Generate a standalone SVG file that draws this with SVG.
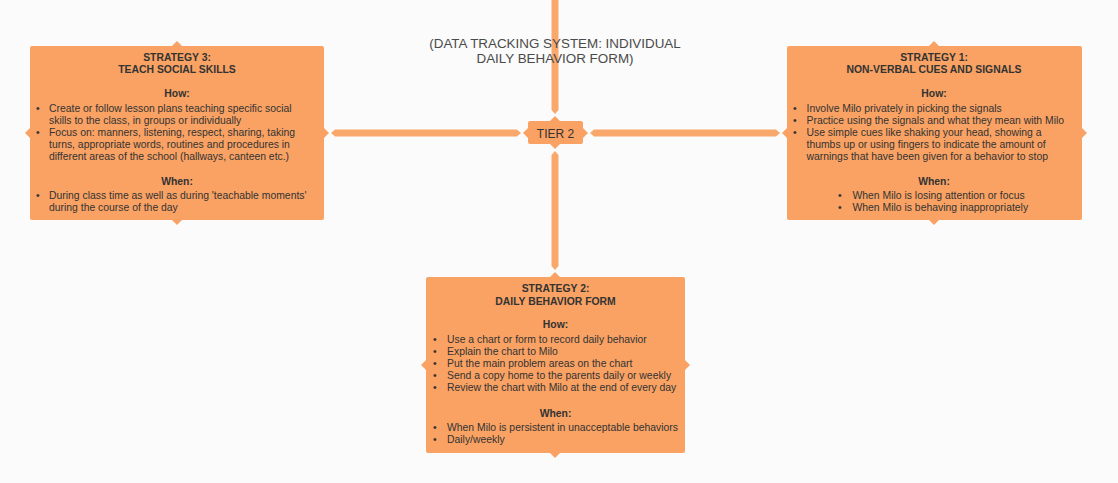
<svg xmlns="http://www.w3.org/2000/svg" width="1118" height="483" viewBox="0 0 1118 483">
<style>
.bg{fill:#FBFBFB}
.box{fill:#F9A263}
.con{fill:#F9A86C}
text{font-family:"Liberation Sans",Arial,Helvetica,sans-serif;fill:#333333}
.h{font-size:10.4px;font-weight:bold;text-anchor:middle}
.t{font-size:10.4px}
.title{font-size:13.4px;fill:#4a4a4a;text-anchor:middle}
.tier{font-size:12px;text-anchor:middle}
</style>
<rect class="bg" x="0" y="0" width="1118" height="483"/>
<g id="connectors">
  <polygon class="con" points="551.5,0 558.5,0 558.5,110 555,114 551.5,110"/>
  <polygon class="con" points="555,151 558.5,155 558.5,266 555,270 551.5,266 551.5,155"/>
  <polygon class="con" points="521,133 517,129.5 335,129.5 331,133 335,136.5 517,136.5"/>
  <polygon class="con" points="590,133 594,129.5 776,129.5 780,133 776,136.5 594,136.5"/>
</g>
<g id="title">
  <text class="title" x="555" y="48">(DATA TRACKING SYSTEM: INDIVIDUAL</text>
  <text class="title" x="555" y="63">DAILY BEHAVIOR FORM)</text>
</g>
<g id="tier2">
  <rect class="box" x="528" y="121" width="55" height="23" rx="2"/>
  <polygon class="box" points="550,121 555,116 560,121"/>
  <polygon class="box" points="550,144 555,149 560,144"/>
  <polygon class="box" points="528,128 523,133 528,138"/>
  <polygon class="box" points="583,128 588,133 583,138"/>
  <text class="tier" x="555.5" y="137.5">TIER 2</text>
</g>
<g id="strategy3">
  <rect class="box" x="30" y="46" width="294" height="174" rx="2"/>
  <polygon class="box" points="172,46 177,41 182,46"/>
  <polygon class="box" points="172,220 177,225 182,220"/>
  <polygon class="box" points="30,128 25,133 30,138"/>
  <polygon class="box" points="324,128 329,133 324,138"/>
  <text class="h" x="177" y="60.5">STRATEGY 3:</text>
  <text class="h" x="177" y="72.5">TEACH SOCIAL SKILLS</text>
  <text class="h" x="177" y="97">How:</text>
  <text class="t" x="36" y="111.5">•</text>
  <text class="t" x="49" y="111.5">Create or follow lesson plans teaching specific social</text>
  <text class="t" x="49" y="123.5">skills to the class, in groups or individually</text>
  <text class="t" x="36" y="135.5">•</text>
  <text class="t" x="49" y="135.5">Focus on: manners, listening, respect, sharing, taking</text>
  <text class="t" x="49" y="147.5">turns, appropriate words, routines and procedures in</text>
  <text class="t" x="49" y="159.5">different areas of the school (hallways, canteen etc.)</text>
  <text class="h" x="177" y="185">When:</text>
  <text class="t" x="36" y="198.5">•</text>
  <text class="t" x="49" y="198.5">During class time as well as during 'teachable moments'</text>
  <text class="t" x="49" y="210.5">during the course of the day</text>
</g>
<g id="strategy1">
  <rect class="box" x="787" y="46" width="295" height="174" rx="2"/>
  <polygon class="box" points="929,46 934,41 939,46"/>
  <polygon class="box" points="929,220 934,225 939,220"/>
  <polygon class="box" points="787,128 782,133 787,138"/>
  <polygon class="box" points="1082,128 1087,133 1082,138"/>
  <text class="h" x="934" y="60.5">STRATEGY 1:</text>
  <text class="h" x="934" y="72.5">NON-VERBAL CUES AND SIGNALS</text>
  <text class="h" x="934" y="97">How:</text>
  <text class="t" x="793" y="111.5">•</text>
  <text class="t" x="806.5" y="111.5">Involve Milo privately in picking the signals</text>
  <text class="t" x="793" y="123.5">•</text>
  <text class="t" x="806.5" y="123.5">Practice using the signals and what they mean with Milo</text>
  <text class="t" x="793" y="135.5">•</text>
  <text class="t" x="806.5" y="135.5">Use simple cues like shaking your head, showing a</text>
  <text class="t" x="806.5" y="147.5">thumbs up or using fingers to indicate the amount of</text>
  <text class="t" x="806.5" y="159.5">warnings that have been given for a behavior to stop</text>
  <text class="h" x="934" y="185">When:</text>
  <text class="t" x="838" y="198.5">•</text>
  <text class="t" x="852.5" y="198.5">When Milo is losing attention or focus</text>
  <text class="t" x="838" y="210.5">•</text>
  <text class="t" x="852.5" y="210.5">When Milo is behaving inappropriately</text>
</g>
<g id="strategy2">
  <rect class="box" x="426" y="277" width="259" height="176" rx="2"/>
  <polygon class="box" points="550,277 555,272 560,277"/>
  <polygon class="box" points="550,453 555,458 560,453"/>
  <polygon class="box" points="426,360 421,365 426,370"/>
  <polygon class="box" points="685,360 690,365 685,370"/>
  <text class="h" x="555.5" y="292">STRATEGY 2:</text>
  <text class="h" x="555.5" y="305">DAILY BEHAVIOR FORM</text>
  <text class="h" x="555.5" y="328">How:</text>
  <text class="t" x="433" y="343">•</text>
  <text class="t" x="447" y="343">Use a chart or form to record daily behavior</text>
  <text class="t" x="433" y="355">•</text>
  <text class="t" x="447" y="355">Explain the chart to Milo</text>
  <text class="t" x="433" y="367">•</text>
  <text class="t" x="447" y="367">Put the main problem areas on the chart</text>
  <text class="t" x="433" y="379">•</text>
  <text class="t" x="447" y="379">Send a copy home to the parents daily or weekly</text>
  <text class="t" x="433" y="391">•</text>
  <text class="t" x="447" y="391">Review the chart with Milo at the end of every day</text>
  <text class="h" x="555.5" y="417">When:</text>
  <text class="t" x="433" y="430.5">•</text>
  <text class="t" x="447" y="430.5">When Milo is persistent in unacceptable behaviors</text>
  <text class="t" x="433" y="442.5">•</text>
  <text class="t" x="447" y="442.5">Daily/weekly</text>
</g>
</svg>
